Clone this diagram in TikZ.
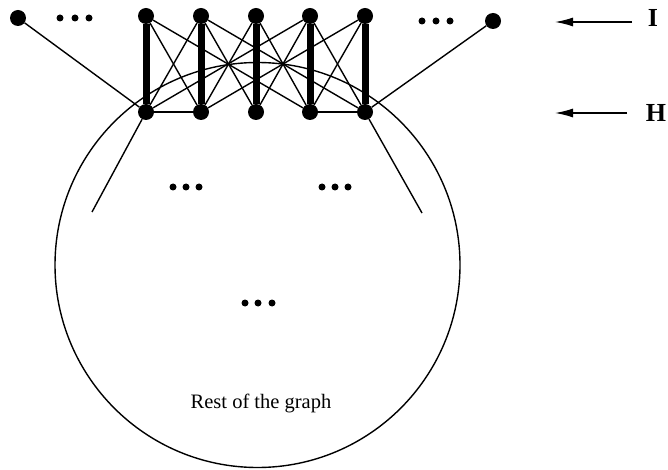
\documentclass[tikz,border=0pt]{standalone}
\usepackage{fontspec}
\setmainfont{Liberation Serif}
\usetikzlibrary{arrows.meta}
\begin{document}
\begin{tikzpicture}[x=1pt,y=-1pt,
  vtx/.style={circle,fill=black,inner sep=0pt,minimum size=16pt},
  edot/.style={circle,fill=black,inner sep=0pt,minimum size=7pt},
  thinedge/.style={line width=1.4pt},
  thickedge/.style={line width=7pt},
  lbl/.style={font=\bfseries\fontsize{26}{26}\selectfont},
  ptr/.style={line width=1.4pt,-{Latex[length=18pt,width=9pt]}}]
\useasboundingbox (0,0) rectangle (668,470);
% the rest of the graph
\node[draw,circle,line width=1.4pt,minimum size=405pt,inner sep=0pt] (rest) at (257.5,265) {};
\node[font=\fontsize{20.5}{20.5}\selectfont] (resttxt) at (261,403) {Rest of the graph};
% vertices
\node[vtx] (l) at (18,18) {};
\node[vtx] (r) at (493,21) {};
\foreach \i/\x in {1/146,2/201,3/256,4/310,5/365}{
  \node[vtx] (i\i) at (\x,16) {};
  \node[vtx] (h\i) at (\x,112) {};
}
\coordinate (hl) at (92,212);
\coordinate (hr) at (422,213);
% edges
\foreach \i in {1,...,5}{ \draw[thickedge] (i\i) -- (h\i); }
\foreach \i/\j in {1/2,2/3,3/4,4/5}{
  \draw[thinedge] (i\i) -- (h\j);
  \draw[thinedge] (h\i) -- (i\j);
}
\draw[thinedge] (i1) -- (h4);
\draw[thinedge] (h1) -- (i4);
\draw[thinedge] (i2) -- (h5);
\draw[thinedge] (h2) -- (i5);
\draw[thinedge] (h1) -- (h2);
\draw[thinedge] (h4) -- (h5);
\draw[thinedge] (l) -- (h1);
\draw[thinedge] (r) -- (h5);
\draw[thinedge] (h1) -- (hl);
\draw[thinedge] (h5) -- (hr);
% ellipses
\foreach \n/\x/\y in {a1/60/18,a2/75/18,a3/89/18,
                      b1/422/21,b2/436/21,b3/450/21,
                      c1/173/187,c2/186/187,c3/199/187,
                      d1/322/187,d2/335/187,d3/348/187,
                      e1/245/303,e2/258/303,e3/272/303}{
  \node[edot] (\n) at (\x,\y) {};
}
% labels
\node[lbl] (I) at (653,18) {I};
\node[lbl] (H) at (656,113) {H};
\coordinate (Is) at (632,22);
\coordinate (Ie) at (555,22);
\coordinate (Hs) at (627,113);
\coordinate (He) at (555,113);
\draw[ptr] (Is) -- (Ie);
\draw[ptr] (Hs) -- (He);
\end{tikzpicture}
\end{document}
